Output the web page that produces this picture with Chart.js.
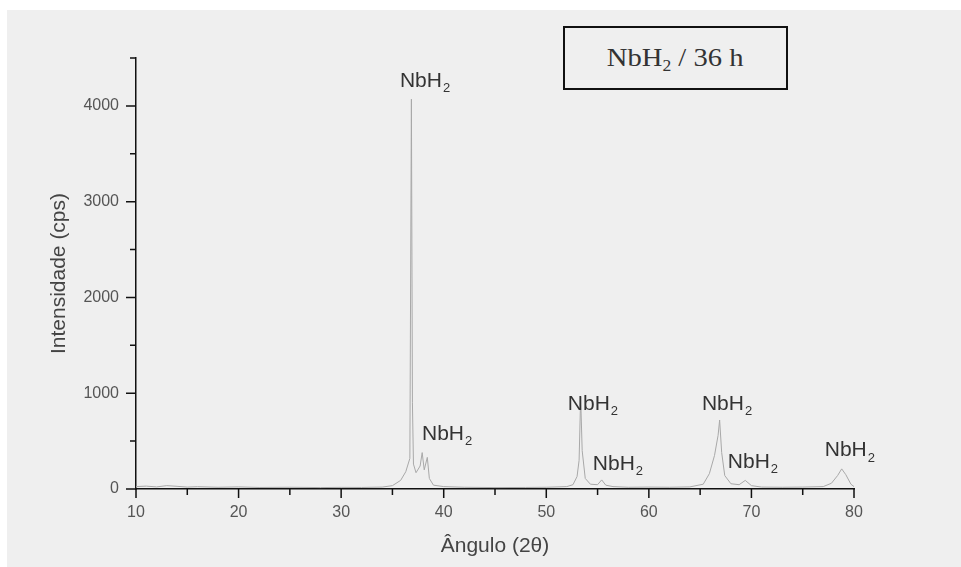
<!DOCTYPE html>
<html>
<head>
<meta charset="utf-8">
<script src="https://cdn.jsdelivr.net/npm/chart.js@4.4.0/dist/chart.umd.min.js"></script>
<style>
  body { margin:0; background:#fff; width:961px; height:567px; overflow:hidden; position:relative; }
  #panel { position:absolute; left:7px; top:10px; right:0; bottom:0; background:#efefef; }
  #wrap { position:absolute; left:0; top:0; width:961px; height:567px; }
  #legendBox {
    position:absolute; left:563px; top:26px; width:221px; height:60px;
    border:2px solid #111; background:#efefef;
    font-family:"Liberation Serif","Times New Roman",serif; font-size:26px; color:#333;
    display:flex; align-items:center; justify-content:center;
  }
  #legendBox span { transform:scaleX(1.1); display:inline-block; }
  #legendBox sub { font-size:16px; vertical-align:-5px; line-height:0; }
</style>
</head>
<body>
<div id="panel"></div>
<div id="wrap"><canvas id="grafico" width="961" height="567"></canvas></div>
<div id="legendBox"><span>NbH<sub>2</sub> / 36 h</span></div>
<script>
const angulos = [10, 11, 12, 13, 14, 15, 16, 18, 20, 22, 25, 28, 30, 32, 34, 35, 35.8, 36.3, 36.7, 36.85, 36.95, 37.05, 37.3, 37.7, 37.9, 38.1, 38.4, 38.6, 39, 40, 42, 45, 48, 50, 52, 52.6, 53.0, 53.2, 53.35, 53.5, 53.8, 54.3, 55.0, 55.4, 55.8, 56.5, 58, 60, 62, 64, 65.3, 65.9, 66.4, 66.75, 66.9, 67.1, 67.4, 68.0, 68.8, 69.4, 70.0, 71, 73, 75, 77, 77.8, 78.4, 78.8, 79.2, 79.7, 80];
const intensidades = [25, 30, 22, 35, 28, 20, 24, 18, 22, 16, 18, 15, 17, 16, 20, 35, 90, 180, 320, 4070, 900, 260, 170, 240, 380, 200, 330, 110, 40, 25, 18, 15, 16, 18, 25, 45, 130, 300, 960, 400, 110, 50, 45, 95, 40, 25, 18, 20, 18, 22, 50, 160, 350, 560, 720, 380, 140, 55, 45, 90, 35, 20, 18, 20, 25, 60, 140, 210, 150, 50, 25];

const ejeXMin = 10, ejeXMax = 80, ejeYMin = 0, ejeYMax = 4500;
const ticksXMayores = [10, 20, 30, 40, 50, 60, 70, 80];
const ticksXMenores = [15, 25, 35, 45, 55, 65, 75];
const ticksYMayores = [0, 1000, 2000, 3000, 4000];
const ticksYMenores = [500, 1500, 2500, 3500, 4500];

// anotaciones de picos (posición en unidades de datos)
const etiquetasX = [35.73, 37.88, 52.1, 54.54, 65.17, 67.7, 77.15];
const etiquetasY = [4262, 576, 890, 262, 890, 283, 408];

const ticksManuales = {
    id: "ticksManuales",
    afterDraw(chart) {
        const ctx = chart.ctx;
        const sx = chart.scales.x, sy = chart.scales.y;
        const base = sy.getPixelForValue(0);
        const izq = sx.left;
        ctx.save();
        ctx.strokeStyle = "#111";
        ctx.lineWidth = 1.5;
        ctx.beginPath();
        ticksXMayores.forEach(v => { const p = sx.getPixelForValue(v); ctx.moveTo(p, base); ctx.lineTo(p, base + 9); });
        ticksXMenores.forEach(v => { const p = sx.getPixelForValue(v); ctx.moveTo(p, base); ctx.lineTo(p, base + 6); });
        ticksYMayores.forEach(v => { const p = sy.getPixelForValue(v); ctx.moveTo(izq, p); ctx.lineTo(izq - 10, p); });
        ticksYMenores.forEach(v => { const p = sy.getPixelForValue(v); ctx.moveTo(izq, p); ctx.lineTo(izq - 6, p); });
        ctx.stroke();
        ctx.restore();
    }
};

const etiquetasPicos = {
    id: "etiquetasPicos",
    afterDatasetsDraw(chart) {
        const ctx = chart.ctx;
        const sx = chart.scales.x, sy = chart.scales.y;
        ctx.save();
        ctx.fillStyle = "#333";
        ctx.textBaseline = "middle";
        ctx.textAlign = "left";
        etiquetasX.forEach((vx, i) => {
            const px = sx.getPixelForValue(vx);
            const py = sy.getPixelForValue(etiquetasY[i]);
            ctx.font = "21px 'Liberation Sans', Arial, sans-serif";
            ctx.fillText("NbH", px, py);
            const w = ctx.measureText("NbH").width;
            ctx.font = "13px 'Liberation Sans', Arial, sans-serif";
            ctx.fillText("2", px + w + 1, py + 8);
        });
        ctx.restore();
    }
};

new Chart(document.getElementById("grafico").getContext("2d"), {
    type: "line",
    data: {
        datasets: [{
            data: angulos.map((a, i) => ({ x: a, y: intensidades[i] })),
            borderColor: "#a8a8a8",
            borderWidth: 1,
            pointRadius: 0,
            tension: 0,
            fill: false
        }]
    },
    options: {
        responsive: false,
        animation: false,
        layout: { padding: { left: 0, top: 58, right: 107, bottom: 0 } },
        plugins: { legend: { display: false }, tooltip: { enabled: false } },
        scales: {
            x: {
                type: "linear",
                min: ejeXMin, max: ejeXMax,
                afterBuildTicks: s => { s.ticks = ticksXMayores.map(v => ({ value: v })); },
                grid: { display: true, drawOnChartArea: false, drawTicks: false },
                border: { display: true, color: "#111", width: 1.5 },
                ticks: {
                    autoSkip: false, padding: 14, color: "#555",
                    font: { family: "'Liberation Sans', Arial, sans-serif", size: 16 },
                    maxRotation: 0,
                    callback: v => String(v)
                },
                title: {
                    display: true, text: "Ângulo (2θ)", color: "#444",
                    font: { family: "'Liberation Sans', Arial, sans-serif", size: 21 },
                    padding: { top: 0, bottom: 8 }
                },
                afterFit: s => { s.height = 78; }
            },
            y: {
                min: ejeYMin, max: ejeYMax,
                afterBuildTicks: s => { s.ticks = ticksYMayores.map(v => ({ value: v })); },
                grid: { display: true, drawOnChartArea: false, drawTicks: false },
                border: { display: true, color: "#111", width: 1.5 },
                ticks: {
                    autoSkip: false, padding: 17, color: "#555",
                    font: { family: "'Liberation Sans', Arial, sans-serif", size: 16 },
                    callback: v => String(v)
                },
                title: {
                    display: true, text: "Intensidade (cps)", color: "#444",
                    font: { family: "'Liberation Sans', Arial, sans-serif", size: 21 },
                    padding: { top: 47, bottom: 0 }
                },
                afterFit: s => { s.width = 136; }
            }
        }
    },
    plugins: [ticksManuales, etiquetasPicos]
});
</script>
</body>
</html>
